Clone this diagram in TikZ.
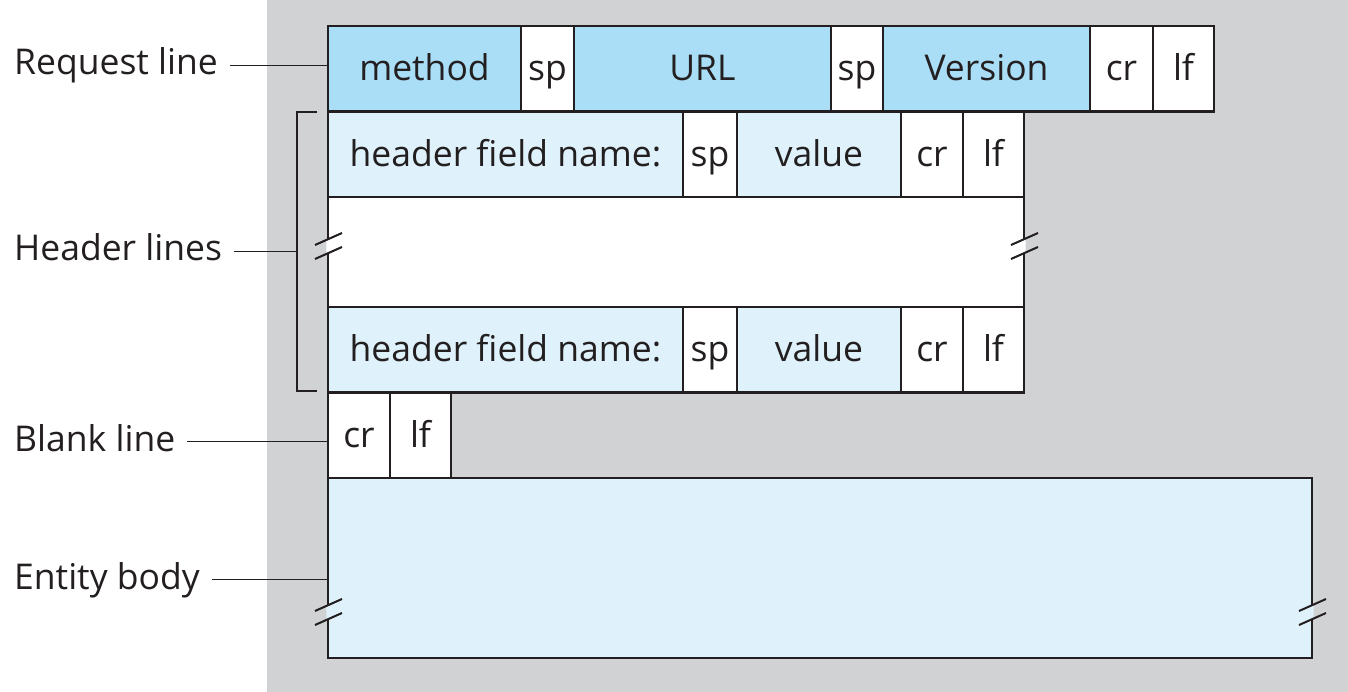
\documentclass[tikz,border=0pt]{standalone}
\usepackage{fontspec}
\setmainfont{Open Sans}
\usepackage{tikz}
\usetikzlibrary{positioning}

\definecolor{reqblue}{HTML}{A9DEF6}
\definecolor{hdrblue}{HTML}{DFF2FB}
\definecolor{backgray}{HTML}{D1D2D4}
\definecolor{ink}{HTML}{231F20}

\begin{document}
\begin{tikzpicture}[x=1pt,y=-1pt,node distance=0pt,
        every node/.style={font=\fontsize{35.5}{40}\selectfont,text=ink},
        cell/.style={draw=ink,line width=2.2pt,inner sep=0pt,outer sep=0pt,
                     minimum height=85.5pt,fill=white,text height=30pt,text depth=6pt},
        label/.style={anchor=base west,inner sep=0pt},
        lead/.style={draw=ink,line width=1.4pt}]

  \useasboundingbox (0,0) rectangle (1348,692);
  \fill[backgray] (267,0) rectangle (1348,692);

  % request line
  \node[cell,fill=reqblue,minimum width=193pt,anchor=north west] (method) at (328,26) {method};
  \node[cell,minimum width=53pt,right=of method]               (sp1)     {sp};
  \node[cell,fill=reqblue,minimum width=257pt,right=of sp1]     (url)     {URL};
  \node[cell,minimum width=52pt,right=of url]                   (sp2)     {sp};
  \node[cell,fill=reqblue,minimum width=207pt,right=of sp2]     (version) {Version};
  \node[cell,minimum width=63pt,right=of version]               (cr1)     {cr};
  \node[cell,minimum width=61pt,right=of cr1]                   (lf1)     {lf};

  % header lines
  \node[cell,fill=hdrblue,minimum width=355pt,below=of method.south west,anchor=north west] (name1) {header field name:};
  \node[cell,minimum width=54pt,right=of name1]                 (sp3)     {sp};
  \node[cell,fill=hdrblue,minimum width=164pt,right=of sp3]     (value1)  {value};
  \node[cell,minimum width=62pt,right=of value1]                (cr2)     {cr};
  \node[cell,minimum width=61pt,right=of cr2]                   (lf2)     {lf};

  \node[cell,minimum width=696pt,minimum height=110pt,below=of name1.south west,anchor=north west] (gap) {};

  \node[cell,fill=hdrblue,minimum width=355pt,below=of gap.south west,anchor=north west] (name2) {header field name:};
  \node[cell,minimum width=54pt,right=of name2]                 (sp4)     {sp};
  \node[cell,fill=hdrblue,minimum width=164pt,right=of sp4]     (value2)  {value};
  \node[cell,minimum width=62pt,right=of value2]                (cr3)     {cr};
  \node[cell,minimum width=61pt,right=of cr3]                   (lf3)     {lf};

  % blank line and entity body
  \node[cell,minimum width=62pt,below=of name2.south west,anchor=north west] (cr4) {cr};
  \node[cell,minimum width=61pt,right=of cr4]                   (lf4)     {lf};
  \node[cell,fill=hdrblue,minimum width=984pt,minimum height=180pt,below=of cr4.south west,anchor=north west] (body) {};

  % break marks on the cut edges
  \foreach \bx/\by/\bc in {328/245/white,1024/245/white,328/611/hdrblue,1312/611/hdrblue}{
    \fill[\bc] (\bx-1.7,\by-5.2) -- (\bx+1.7,\by-6.8) -- (\bx+1.7,\by+7.2) -- (\bx-1.7,\by+8.8) -- cycle;
    \draw[ink,line width=2pt] (\bx-13,\by) -- (\bx+14,\by-12)
                              (\bx-13,\by+14) -- (\bx+14,\by+2);
  }

  % bracket for the header lines
  \coordinate (brtop) at (297,112);
  \coordinate (brbot) at (297,391);
  \draw[ink,line width=1.4pt] ([xshift=20pt]brtop) -- (brtop) -- (brbot) -- ([xshift=20pt]brbot);

  % labels
  \node[label] (reqlabel)   at (14,75)  {Request line};
  \node[label] (hdrlabel)   at (14,261) {Header lines};
  \node[label] (blanklabel) at (14,451) {Blank line};
  \node[label] (bodylabel)  at (14,589) {Entity body};

  \draw[lead] ([xshift=12pt,yshift=9.5pt]reqlabel.base east) -- ([yshift=9.5pt]reqlabel.base east -| method.west);
  \draw[lead] ([xshift=12pt,yshift=9.5pt]hdrlabel.base east) -- ([yshift=9.5pt]hdrlabel.base east -| brtop);
  \draw[lead] ([xshift=12pt,yshift=9.5pt]blanklabel.base east) -- ([yshift=9.5pt]blanklabel.base east -| cr4.west);
  \draw[lead] ([xshift=12pt,yshift=9.5pt]bodylabel.base east) -- ([yshift=9.5pt]bodylabel.base east -| body.west);
\end{tikzpicture}
\end{document}
